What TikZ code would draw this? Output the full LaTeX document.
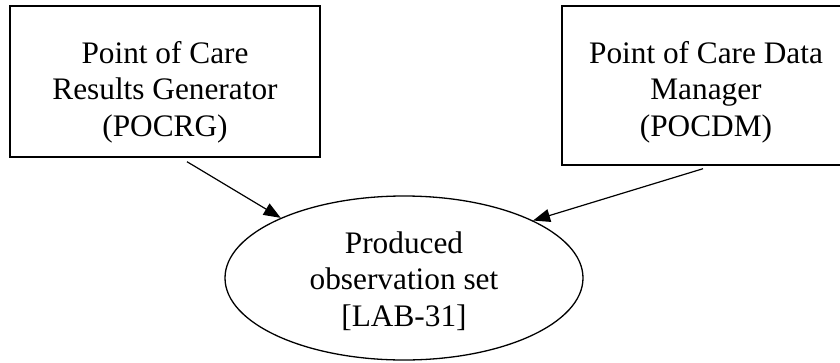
\documentclass[tikz,border=0pt]{standalone}
\usepackage{fontspec}
\setmainfont{Liberation Serif}
\usetikzlibrary{shapes.geometric,arrows.meta,calc}
\tikzset{
  boxshape/.style={draw, line width=1.4pt, inner sep=0pt},
  ellshape/.style={draw, ellipse, line width=1.3pt, inner sep=0pt, minimum width=358pt, minimum height=164pt},
  lbl/.style={align=center, inner sep=0pt, font=\fontsize{31.3pt}{36.5pt}\selectfont},
  conn/.style={line width=1.2pt, -{Triangle[length=17pt,width=13pt]}}
}
\begin{document}
\begin{tikzpicture}[x=1pt,y=-1pt]
\useasboundingbox (0,0) rectangle (840,362);
\clip (0,0) rectangle (840,362);
\fill[white] (0,0) rectangle (840,362);
\node[boxshape, minimum width=310pt, minimum height=151pt] (pocrg) at (165,81.5) {};
\node[boxshape, minimum width=288pt, minimum height=159pt] (pocdm) at (706,85.5) {};
\node[ellshape] (obs) at (404,278) {};
\node[lbl] (pocrgtxt) at (165,92) {Point of Care\\Results Generator\\(POCRG)};
\node[lbl] (pocdmtxt) at (706,92) {Point of Care Data\\Manager\\(POCDM)};
\node[lbl] (obstxt) at (404,281) {Produced\\observation set\\{}{[}LAB-31{]}};
\coordinate (s1) at ($(pocrg.south)+(22,4)$);
\coordinate (s2) at ($(pocdm.south)+(-3,3)$);
\draw[conn] (s1) -- (obs.154.7);
\draw[conn] (s2) -- (obs.24.9);
\end{tikzpicture}
\end{document}
